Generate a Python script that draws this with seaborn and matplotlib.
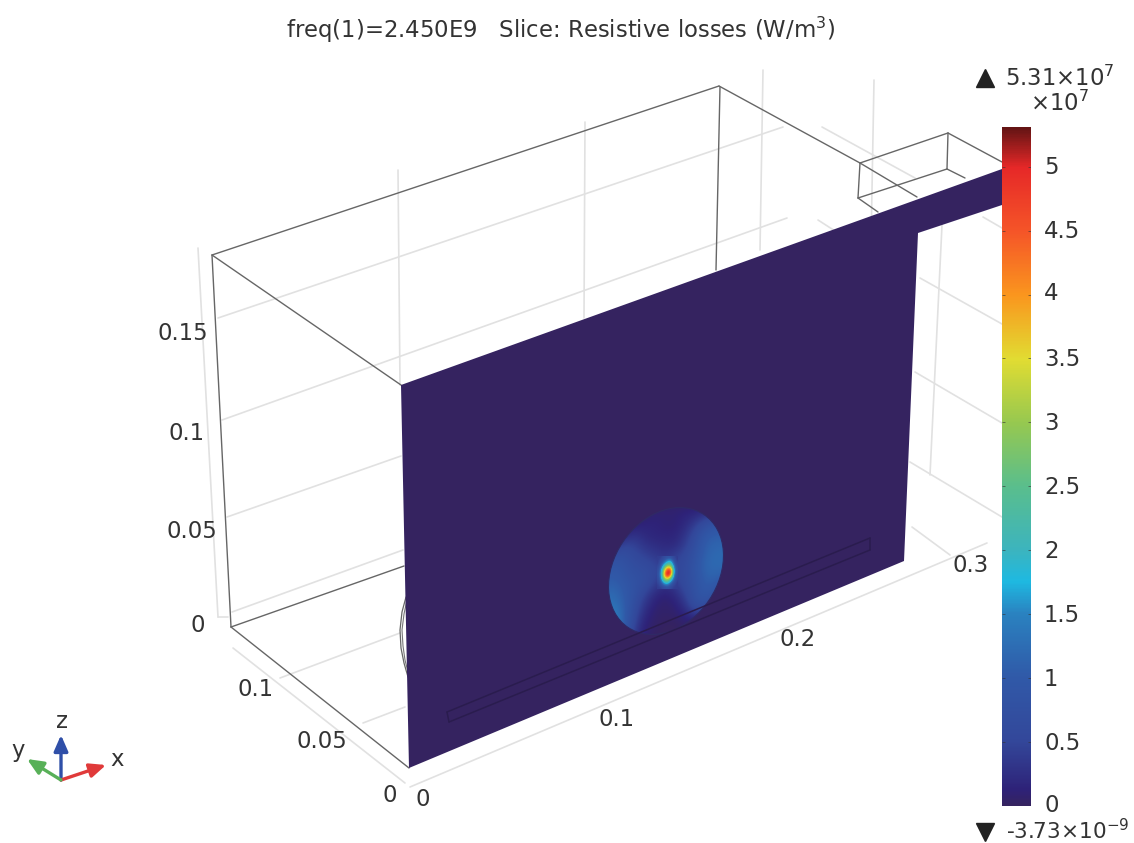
import numpy as np
import pandas as pd
import matplotlib
matplotlib.use("Agg")
import matplotlib.pyplot as plt
from matplotlib.colors import LinearSegmentedColormap, Normalize
from matplotlib.patches import Ellipse
import seaborn as sns

# ---- picture-space geometry (pixels) ----
dark_segments = [
    ((212, 255), (719, 86)), ((719, 86), (860, 163)), ((860, 163), (917, 197)),
    ((212, 255), (401, 385)), ((212, 255), (231, 627)), ((231, 627), (409, 768)),
    ((231, 627), (404, 566)), ((720, 87), (716, 270)),
    ((860, 163), (948, 133)), ((948, 133), (1002, 162)),
    ((860, 163), (858, 198)), ((948, 133), (947, 169)),
    ((858, 198), (947, 169)), ((947, 169), (965, 178)), ((858, 198), (878, 212)),
]
grid_segments = [
    ((198, 248), (218, 617)), ((218, 617), (228, 617)),
    ((218, 318), (783, 127)), ((222, 420), (787, 218)),
    ((227, 517), (401, 456)), ((232, 612), (403, 550)),
    ((398, 170), (400, 385)), ((585, 122), (584, 318)),
    ((763, 70), (760, 250)), ((874, 80), (871, 245)), ((942, 225), (930, 475)),
    ((822, 127), (915, 178)), ((818, 220), (860, 247)), ((920, 278), (1002, 324)),
    ((915, 372), (1002, 423)), ((910, 462), (1002, 517)),
    ((912, 527), (950, 555)), ((983, 217), (1002, 228)),
    ((410, 787), (987, 543)), ((233, 648), (405, 783)),
    ((280, 678), (400, 633)), ((363, 723), (405, 707)),
]
slice_x = [401, 1002, 1002, 918, 904, 409]
slice_y = [385, 169, 205, 233, 561, 768]
inner_segments = [
    ((447, 712), (870, 538)), ((449, 722), (870, 550)),
    ((447, 712), (449, 722)), ((870, 538), (870, 550)),
]
arc_x_outer = [406, 402, 400, 401, 404, 408]
arc_y_outer = [597, 612, 630, 648, 663, 677]
arc_x_inner = [407, 404, 402, 403, 405, 408]
arc_y_inner = [600, 614, 630, 646, 660, 672]

# ---- resistive losses on the disc, in units of 1e7 W/m3 ----
disc_x = [605, 615, 625, 635, 645, 655, 665, 675, 685, 695, 705, 715, 725]
disc_y = [505, 515, 525, 535, 545, 555, 565, 575, 585, 595, 605, 615, 625, 635]
disc_values = [
    [0, 0, 0, 0, 0, .05, .05, .05, .05, .05, .05, 0, 0],
    [0, 0, 0, 0, .05, .1, .1, .1, .15, .2, .3, .4, .4],
    [0, 0, 0, .1, .15, .15, .1, .1, .2, .4, .7, .85, .85],
    [0, 0, .2, .3, .2, .15, .15, .15, .3, .6, .95, 1.05, 1.05],
    [0, .3, .5, .45, .3, .25, .2, .2, .4, .7, 1.05, 1.15, 1.15],
    [.4, .7, .7, .55, .45, .35, .3, .4, .55, .8, 1.1, 1.2, 1.2],
    [.8, .9, .8, .65, .6, .5, .4, .5, .6, .85, 1.15, 1.2, 1.2],
    [.95, 1.0, .85, .75, .7, .55, .4, .5, .6, .85, 1.1, 1.15, 1.05],
    [1.05, 1.1, .95, .8, .65, .4, .25, .35, .6, .8, 1.05, 1.0, .7],
    [1.2, 1.2, 1.0, .75, .45, .2, .1, .2, .45, .8, .95, .8, .4],
    [1.3, 1.3, 1.05, .65, .3, .1, .05, .1, .3, .7, .75, .4, .2],
    [1.45, 1.45, 1.05, .55, .2, .05, .05, .05, .15, .3, .2, .1, 0],
    [1.55, 1.55, 1.0, .45, .1, .05, 0, 0, .05, 0, 0, 0, 0],
    [1.6, 1.6, .95, .3, .1, 0, 0, 0, 0, 0, 0, 0, 0],
]
spot_x = [658, 661, 664, 667, 670, 673, 676]
spot_y = [558, 561, 564, 567, 570, 573, 576, 579, 582, 585, 588]
spot_values = [
    [.4, .4, .6, .8, .8, .5, .4],
    [.4, .6, 1.0, 1.5, 1.7, .9, .4],
    [.4, .9, 1.6, 2.2, 2.3, 1.3, .5],
    [.5, 1.3, 2.4, 3.3, 3.2, 1.8, .6],
    [.6, 1.7, 3.2, 4.6, 4.6, 2.1, .7],
    [.7, 1.9, 3.8, 5.31, 5.0, 2.1, .7],
    [.7, 1.9, 3.8, 5.1, 4.0, 1.8, .6],
    [.6, 1.7, 3.0, 3.6, 2.7, 1.4, .5],
    [.5, 1.3, 2.2, 2.4, 1.7, .9, .4],
    [.4, .8, 1.4, 1.5, 1.0, .5, .4],
    [.4, .4, .6, .7, .5, .4, .4],
]

# ---- colour scale ----
vmin, vmax = 0.0, 5.31
cmap_levels = [0, .12, .5, 1, 1.5, 1.75, 2, 2.5, 3, 3.5, 4, 4.5, 5, 5.31]
cmap_colors = ["#352360", "#2e2278", "#33479a", "#3059a8", "#2a82c0", "#1eb9e1",
               "#3cb4be", "#5abe8c", "#96c850", "#e1dc32", "#fa961e", "#f55528",
               "#e62828", "#641414"]
cbar_ticks = [0, 0.5, 1, 1.5, 2, 2.5, 3, 3.5, 4, 4.5, 5]
cbar_labels = ["0", "0.5", "1", "1.5", "2", "2.5", "3", "3.5", "4", "4.5", "5"]
cbar_label_y = [805, 743, 679, 615, 551, 487, 423, 359, 294, 231, 167]

# ---- text ----
title_text = "freq(1)=2.450E9   Slice: Resistive losses (W/m$^{3}$)"
axis_labels = [
    ("0.15", 183, 334), ("0.1", 187, 433), ("0.05", 192, 531), ("0", 198, 625),
    ("0.1", 256, 690), ("0.05", 322, 741), ("0", 390, 795),
    ("0", 423, 799), ("0.1", 617, 719), ("0.2", 798, 640), ("0.3", 971, 566),
]

sns.set_theme(style="white")
plt.rcParams["font.family"] = ["DejaVu Sans"]
plt.rcParams["mathtext.fontset"] = "dejavusans"
TXT = "#333333"
FS = 16.4

fig = plt.figure(figsize=(11.34, 8.43), dpi=100, facecolor="white")
ax = fig.add_axes([0, 0, 1, 1])
cmap = LinearSegmentedColormap.from_list(
    "rf", [(v / vmax, c) for v, c in zip(cmap_levels, cmap_colors)], N=512)
norm = Normalize(vmin, vmax)


def seg_frame(segs):
    rows = []
    for i, (p, q) in enumerate(segs):
        rows += [{"x": p[0], "y": p[1], "seg": i}, {"x": q[0], "y": q[1], "seg": i}]
    return pd.DataFrame(rows)


def draw(segs, color, lw, z):
    sns.lineplot(data=seg_frame(segs), x="x", y="y", units="seg", estimator=None,
                 sort=False, color=color, linewidth=lw, ax=ax, zorder=z, legend=False)


draw(grid_segments, "#e1e1e1", 1.2, 1)
draw(dark_segments, "#666666", 1.0, 2)
ax.plot(arc_x_outer, arc_y_outer, color="#666666", lw=0.9, zorder=2)
ax.plot(arc_x_inner, arc_y_inner, color="#777777", lw=0.8, zorder=2)
ax.fill(slice_x, slice_y, color=cmap(norm(0)), lw=0, zorder=3)

disc_clip = Ellipse((666, 571), 136, 104, angle=-56, transform=ax.transData)


def field(xs, ys, vals, z):
    dx, dy = xs[1] - xs[0], ys[1] - ys[0]
    im = ax.imshow(np.array(vals), cmap=cmap, norm=norm, origin="upper",
                   extent=(xs[0] - dx / 2, xs[-1] + dx / 2, ys[-1] + dy / 2, ys[0] - dy / 2),
                   interpolation="bicubic", aspect="auto", zorder=z)
    im.set_clip_path(disc_clip)


field(disc_x, disc_y, disc_values, 4)
field(spot_x, spot_y, spot_values, 5)
ax.add_patch(Ellipse((666, 571), 136, 104, angle=-56, fc="none", ec="#2f2a66", lw=0.8, zorder=6))
draw(inner_segments, "#2a1c4e", 1.1, 6)

ax.text(561, 30, title_text, ha="center", va="center", fontsize=FS, color=TXT)
for s, x, y in axis_labels:
    ax.text(x, y, s, ha="center", va="center", fontsize=FS, color=TXT, zorder=8)

# triad
origin = (61, 780)
for tip, col in [((61, 735), "#2f4fa8"), ((106, 765), "#e03a3a"), ((27, 759), "#58b058")]:
    ax.annotate("", xy=tip, xytext=origin,
                arrowprops=dict(arrowstyle="-|>,head_width=0.35,head_length=0.8",
                                color=col, lw=2.4, shrinkA=0, shrinkB=0))
for s, x, y in [("z", 62, 722), ("x", 117, 760), ("y", 18, 751)]:
    ax.text(x, y, s, ha="center", va="center", fontsize=FS, color=TXT)

# colour bar annotations
ax.plot([985], [78], marker="^", ms=13, color="#222222", ls="none", clip_on=False)
ax.text(1005, 78, "5.31\u00D710$^{7}$", ha="left", va="center", fontsize=FS, color=TXT)
ax.text(1030, 103, "\u00D710$^{7}$", ha="left", va="center", fontsize=FS, color=TXT)
ax.plot([985], [832], marker="v", ms=13, color="#222222", ls="none", clip_on=False)
ax.text(1006, 831, "-3.73\u00D710$^{-9}$", ha="left", va="center", fontsize=15.6, color=TXT)
for s, y in zip(cbar_labels, cbar_label_y):
    ax.text(1044, y, s, ha="left", va="center", fontsize=FS, color=TXT)

ax.set_xlim(0, 1134)
ax.set_ylim(843, 0)
ax.set_axis_off()

# colour bar strip
cax = fig.add_axes([1002 / 1134, 1 - 806 / 843, 29 / 1134, 679 / 843], zorder=10)
strip_levels = np.linspace(vmax, vmin, 680).reshape(-1, 1)
sns.heatmap(strip_levels, cmap=cmap, norm=norm, cbar=False, xticklabels=False,
            yticklabels=False, ax=cax)
cax.set_xlabel("")
cax.set_ylabel("")
tick_pos = [(vmax - t) / (vmax - vmin) * 680 for t in cbar_ticks]
cax.hlines(tick_pos, 0, 0.12, color="#333333", lw=0.7, alpha=0.6)
cax.hlines(tick_pos, 0.88, 1, color="#333333", lw=0.7, alpha=0.6)

fig.savefig("out.png", dpi=100, facecolor="white")
